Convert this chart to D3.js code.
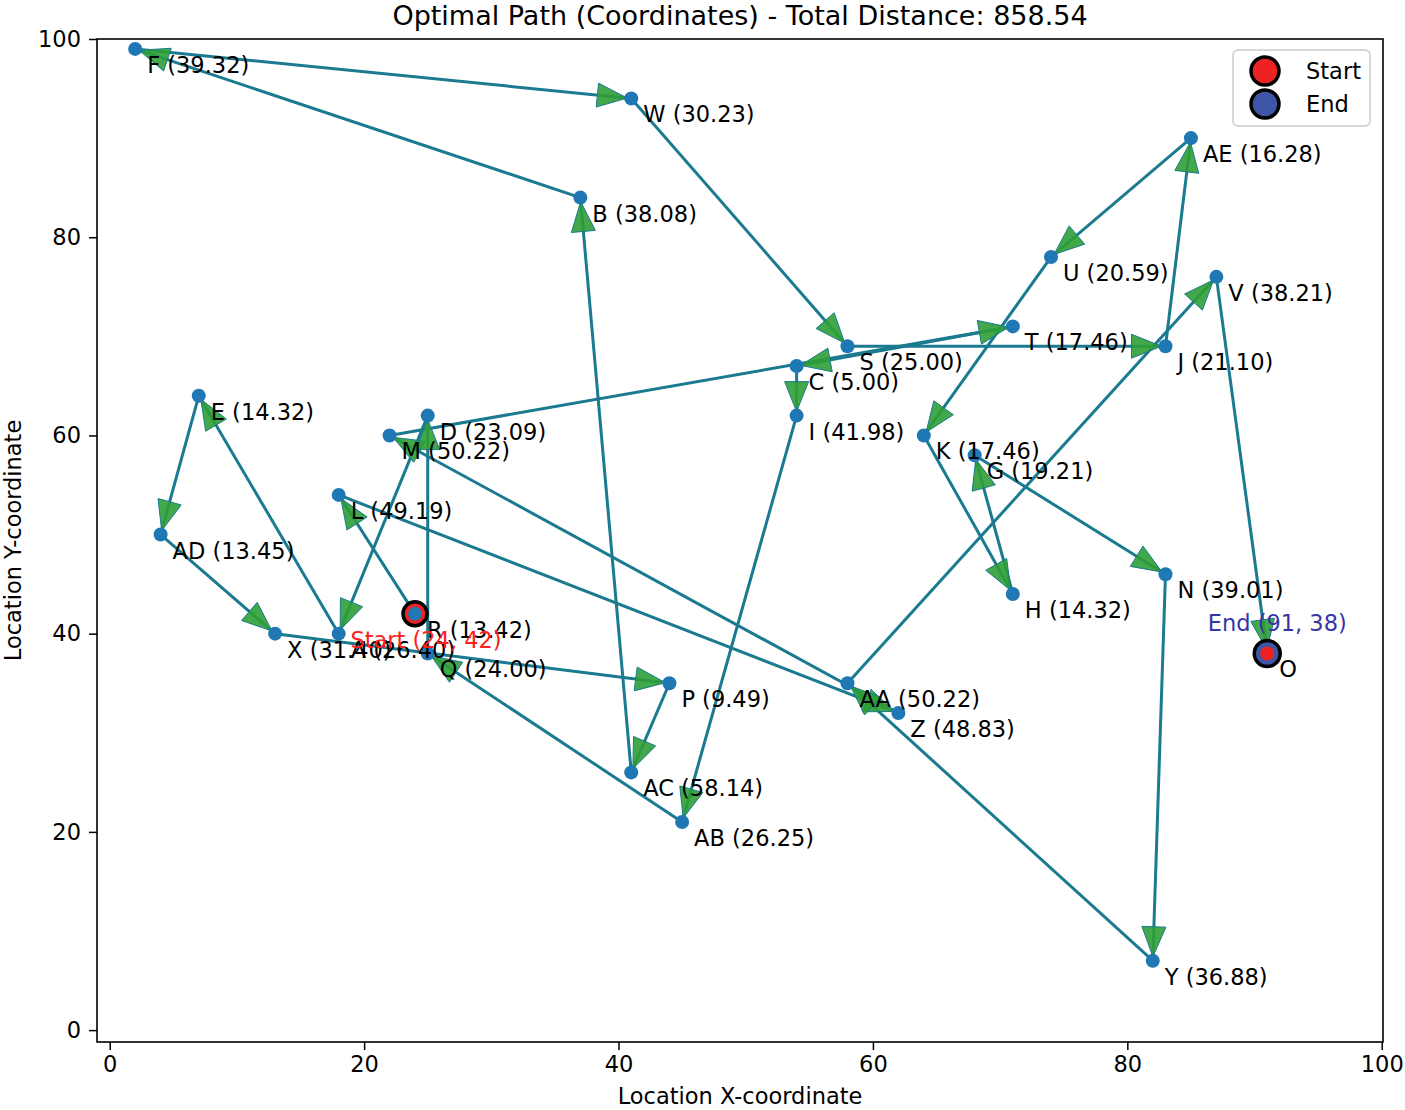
<html>
<head>
<script src="https://d3js.org/d3.v7.min.js"></script>
<style>
body { margin: 0; background: #fff; }
text { font-family: "DejaVu Sans", sans-serif; }
</style>
</head>
<body>
<svg id="chart" width="1405" height="1110"></svg>
<script>
// cities and their coordinates
const cities = ["A","B","C","D","E","F","G","H","I","J","K","L","M","N","O","P","Q","R","S","T","U","V","W","X","Y","Z","AA","AB","AC","AD","AE"];
const cityX = [18,37,54,25,7,2,68,71,54,83,64,18,22,83,91,44,25,24,58,71,74,87,41,13,82,62,58,45,41,4,85];
const cityY = [40,84,67,62,64,99,58,44,62,69,60,54,60,46,38,35,38,42,69,71,78,76,94,40,7,32,35,21,26,50,90];

// visiting order and leg distances (to next city) as labelled
const route = ["R","L","Z","M","T","C","I","AB","Q","D","A","E","AD","X","P","AC","B","F","W","S","J","AE","U","K","H","G","N","Y","AA","V","O"];
const legDist = [13.42,49.19,48.83,50.22,17.46,5.00,41.98,26.25,24.00,23.09,26.40,14.32,13.45,31.40,9.49,58.14,38.08,39.32,30.23,25.00,21.10,16.28,20.59,17.46,14.32,19.21,39.01,36.88,50.22,38.21];

const xTicks = [0,20,40,60,80,100];
const yTicks = [0,20,40,60,80,100];
const totalDistance = "858.54";

const svg = d3.select("#chart");
const pL = 97, pR = 1383, pT = 39, pB = 1042;

const x = d3.scaleLinear().domain([-1, 100.1]).range([pL, pR]);
const y = d3.scaleLinear().domain([-1.2, 100]).range([pB, pT]);

const pos = {};
cities.forEach((c, i) => { pos[c] = [cityX[i], cityY[i]]; });
const pts = route.map(c => pos[c]);

const lineColor = "#1a7a8f";
const arrowGreen = "#2e9e35";
const dotBlue = "#1f77b4";

// path segments
const segs = d3.pairs(pts);
svg.append("g").selectAll("line")
  .data(segs).enter().append("line")
    .attr("x1", d => x(d[0][0])).attr("y1", d => y(d[0][1]))
    .attr("x2", d => x(d[1][0])).attr("y2", d => y(d[1][1]))
    .attr("stroke", lineColor).attr("stroke-width", 3);

// arrow heads near the target of each leg
svg.append("g").selectAll("path")
  .data(segs).enter().append("path")
    .attr("d", d => {
      const x0 = x(d[0][0]), y0 = y(d[0][1]), x1 = x(d[1][0]), y1 = y(d[1][1]);
      const len = Math.hypot(x1 - x0, y1 - y0);
      const ux = (x1 - x0) / len, uy = (y1 - y0) / len;
      const tx = x1 - ux * 4, ty = y1 - uy * 4;
      const bx = tx - ux * 30, by = ty - uy * 30;
      const w = 12;
      return "M" + tx + "," + ty + "L" + (bx - uy * w) + "," + (by + ux * w) +
             "L" + (bx + uy * w) + "," + (by - ux * w) + "Z";
    })
    .attr("fill", arrowGreen).attr("fill-opacity", 0.9)
    .attr("stroke", lineColor).attr("stroke-width", 1);

// start / end markers under the dots
const startP = pts[0], endP = pts[pts.length - 1];
svg.append("circle")
  .attr("cx", x(startP[0])).attr("cy", y(startP[1])).attr("r", 12)
  .attr("fill", "#ee2222").attr("stroke", "black").attr("stroke-width", 3.5);
svg.append("circle")
  .attr("cx", x(endP[0])).attr("cy", y(endP[1])).attr("r", 13)
  .attr("fill", "#3d55a5").attr("stroke", "black").attr("stroke-width", 3.5);

// city dots
svg.append("g").selectAll("circle")
  .data(pts).enter().append("circle")
    .attr("cx", d => x(d[0])).attr("cy", d => y(d[1])).attr("r", 7)
    .attr("fill", dotBlue);
svg.append("circle")
  .attr("cx", x(endP[0])).attr("cy", y(endP[1])).attr("r", 7)
  .attr("fill", "#ee2222");

// city labels
svg.append("g").selectAll("text")
  .data(route).enter().append("text")
    .attr("x", c => x(pos[c][0]) + 12)
    .attr("y", c => y(pos[c][1]) + 24)
    .attr("font-size", 22.5)
    .attr("fill", "black")
    .text((c, i) => i < legDist.length ? c + " (" + legDist[i].toFixed(2) + ")" : c);

svg.append("text")
  .attr("x", x(startP[0]) + 11).attr("y", y(startP[1]) + 34)
  .attr("text-anchor", "middle").attr("font-size", 22.5).attr("fill", "#ff2020")
  .text("Start (" + startP[0] + ", " + startP[1] + ")");
svg.append("text")
  .attr("x", x(endP[0]) + 10).attr("y", y(endP[1]) - 22)
  .attr("text-anchor", "middle").attr("font-size", 22.5).attr("fill", "#3636a6")
  .text("End (" + endP[0] + ", " + endP[1] + ")");

// frame
svg.append("rect")
  .attr("x", pL).attr("y", pT).attr("width", pR - pL).attr("height", pB - pT)
  .attr("fill", "none").attr("stroke", "black").attr("stroke-width", 1.6);

// axes
const xAxis = d3.axisBottom(x).tickValues(xTicks).tickSize(8).tickPadding(6).tickFormat(d3.format("d"));
const yAxis = d3.axisLeft(y).tickValues(yTicks).tickSize(8).tickPadding(8).tickFormat(d3.format("d"));
const gx = svg.append("g").attr("transform", "translate(0," + pB + ")").call(xAxis);
const gy = svg.append("g").attr("transform", "translate(" + pL + ",0)").call(yAxis);
[gx, gy].forEach(g => {
  g.select(".domain").remove();
  g.selectAll(".tick line").attr("stroke", "black").attr("stroke-width", 1.5);
  g.selectAll(".tick text").attr("font-size", 22.5).attr("fill", "black")
    .style("font-family", "DejaVu Sans");
});

// titles
svg.append("text").attr("x", (pL + pR) / 2).attr("y", 25)
  .attr("text-anchor", "middle").attr("font-size", 27).text("Optimal Path (Coordinates) - Total Distance: " + totalDistance);
svg.append("text").attr("x", (pL + pR) / 2).attr("y", 1104)
  .attr("text-anchor", "middle").attr("font-size", 22.5).text("Location X-coordinate");
svg.append("text").attr("transform", "translate(21," + ((pT + pB) / 2) + ") rotate(-90)")
  .attr("text-anchor", "middle").attr("font-size", 22.5).text("Location Y-coordinate");

// legend
const lg = svg.append("g").attr("transform", "translate(1233,50)");
lg.append("rect").attr("width", 137).attr("height", 76).attr("rx", 5)
  .attr("fill", "white").attr("fill-opacity", 0.8).attr("stroke", "#cccccc").attr("stroke-width", 1.5);
const legItems = [["Start", "#ee2222"], ["End", "#3d55a5"]];
legItems.forEach((it, i) => {
  lg.append("circle").attr("cx", 32).attr("cy", 21 + i * 33).attr("r", 14)
    .attr("fill", it[1]).attr("stroke", "black").attr("stroke-width", 3.5);
  lg.append("text").attr("x", 73).attr("y", 29 + i * 33).attr("font-size", 22.5).text(it[0]);
});
</script>
</body>
</html>
